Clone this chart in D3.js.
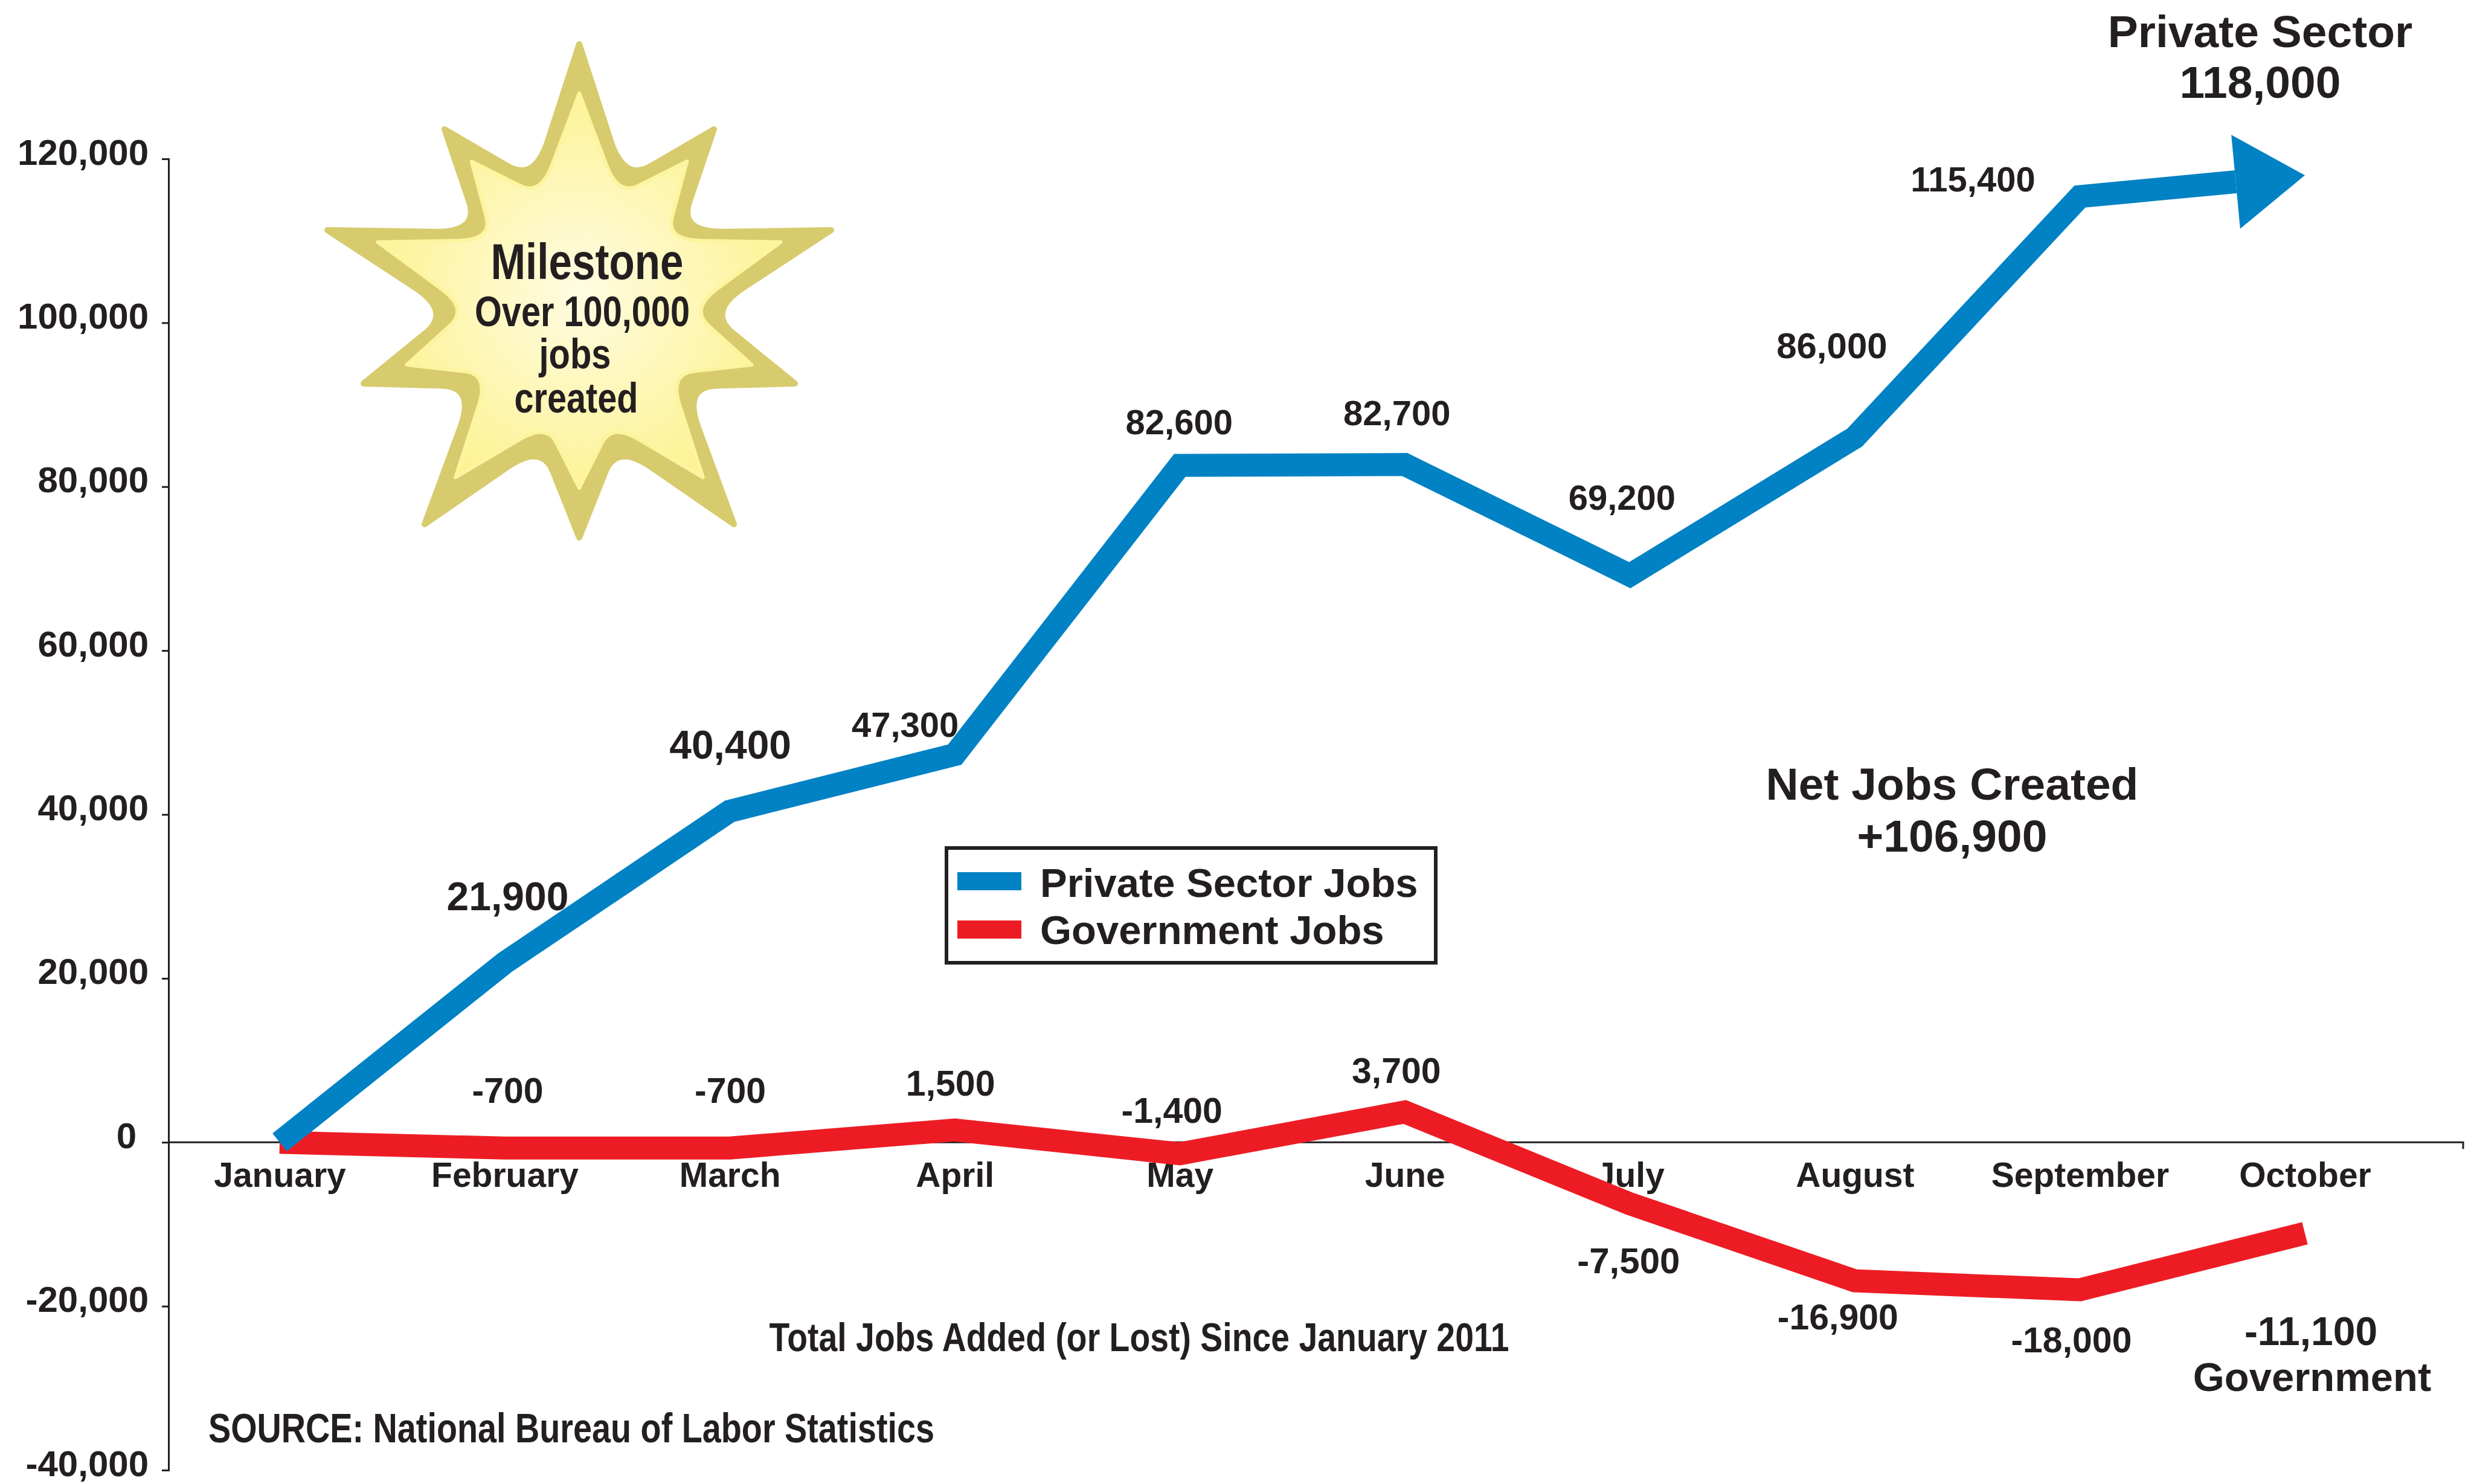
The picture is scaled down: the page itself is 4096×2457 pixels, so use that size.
<!DOCTYPE html>
<html>
<head>
<meta charset="utf-8">
<script src="https://cdn.jsdelivr.net/npm/d3@7"></script>
<style>
  body { margin: 0; background: #fff; }
  text { font-family: "Liberation Sans", Arial, Helvetica, sans-serif; font-weight: bold; fill: #231f20; }
</style>
</head>
<body>
<div id="vis"></div>
<script>
// data
const months = ["January", "February", "March", "April", "May", "June", "July", "August", "September", "October"];
const privateJobs = [0, 21900, 40400, 47300, 82600, 82700, 69200, 86000, 115400, 118000];
const governmentJobs = [0, -700, -700, 1500, -1400, 3700, -7500, -16900, -18000, -11100];
const yTicks = [-40000, -20000, 0, 20000, 40000, 60000, 80000, 100000, 120000];
const seriesNames = ["Private Sector Jobs", "Government Jobs"];
const netJobs = 106900;

const WIDTH = 4096;
const HEIGHT = 2457;
const INK = "#231f20";
const BLUE = "#0082c4";
const RED = "#ed1c24";
// plain hyphen for negatives, like the original
const fmt = v => d3.format(",")(v).replace("\u2212", "-");

const svg = d3.select("#vis")
    .append("svg")
    .attr("width", WIDTH)
    .attr("height", HEIGHT);

svg.append("rect")
    .attr("width", WIDTH)
    .attr("height", HEIGHT)
    .attr("fill", "#fff");

const X = d3.scalePoint()
    .domain(months)
    .range([463, 3816]);

const Y = d3.scaleLinear()
    .domain([-40000, 120000])
    .range([2434, 263]);

const AXIS_X = 279;

// ---- milestone star ----
const STAR_C = [959, 480];
// tip, valley, tip, valley ... clockwise from the top
const starPts = [
    [0, -407], [74, -179], [223, -266], [165, -95], [417, -99], [211, 36],
    [357, 155], [172, 160], [256, 388], [62, 254], [0, 410], [-62, 254],
    [-256, 388], [-172, 160], [-357, 155], [-211, 36], [-417, -99], [-165, -95],
    [-223, -266], [-74, -179]
];

function starPath(tipScale, valleyScale) {
    const P = starPts.map((d, i) => {
        const s = i % 2 === 0 ? tipScale : valleyScale;
        return [STAR_C[0] + d[0] * s, STAR_C[1] + d[1] * s];
    });
    const lerp = (a, b, t) => [a[0] + (b[0] - a[0]) * t, a[1] + (b[1] - a[1]) * t];
    const p = d3.path();
    p.moveTo(P[0][0], P[0][1]);
    for (let i = 1; i < P.length; i += 2) {
        const v = P[i], a = lerp(v, P[i - 1], 0.3), n = P[(i + 1) % P.length], b = lerp(v, n, 0.3);
        p.lineTo(a[0], a[1]);
        p.quadraticCurveTo(v[0], v[1], b[0], b[1]);
        p.lineTo(n[0], n[1]);
    }
    p.closePath();
    return p.toString();
}

const grad = svg.append("defs").append("radialGradient")
    .attr("id", "starFill")
    .attr("cx", "50%").attr("cy", "50%").attr("r", "55%");
grad.append("stop").attr("offset", "0%").attr("stop-color", "#fffce2");
grad.append("stop").attr("offset", "100%").attr("stop-color", "#fdf290");

svg.append("path")
    .attr("d", starPath(1, 1))
    .attr("fill", "#d7cb6e")
    .attr("stroke", "#d7cb6e")
    .attr("stroke-width", 10)
    .attr("stroke-linejoin", "round");

svg.append("path")
    .attr("d", starPath(0.8, 0.87))
    .attr("fill", "url(#starFill)")
    .attr("stroke", "#fdf4a0")
    .attr("stroke-width", 6)
    .attr("stroke-linejoin", "round");

const starText = [
    { t: "Milestone", x: 972, y: 462, size: 84, len: 319 },
    { t: "Over 100,000", x: 964, y: 540, size: 70, len: 356 },
    { t: "jobs", x: 952, y: 610, size: 70, len: 119 },
    { t: "created", x: 954, y: 683, size: 70, len: 205 }
];
svg.selectAll(".starText")
    .data(starText)
    .enter()
    .append("text")
    .attr("class", "starText")
    .attr("x", d => d.x)
    .attr("y", d => d.y)
    .attr("text-anchor", "middle")
    .attr("font-size", d => d.size)
    .attr("textLength", d => d.len)
    .attr("lengthAdjust", "spacingAndGlyphs")
    .text(d => d.t);

// ---- axes ----
const yAxis = svg.append("g")
    .attr("transform", "translate(" + AXIS_X + ",0)")
    .call(d3.axisLeft(Y).tickValues(yTicks).tickFormat(fmt).tickSize(11).tickSizeOuter(11).tickPadding(22));
yAxis.selectAll("path, line").attr("stroke", INK).attr("stroke-width", 3);
yAxis.selectAll("text")
    .attr("font-size", 60)
    .attr("dy", 9)
    .attr("fill", INK)
    .style("font-family", "'Liberation Sans', Arial, sans-serif")
    .style("font-weight", "bold");
yAxis.selectAll(".tick").filter(d => d === 0).select("text").attr("x", -53);

// zero line
svg.append("path")
    .attr("d", "M" + AXIS_X + "," + Y(0) + "H4078V" + (Y(0) + 11))
    .attr("fill", "none")
    .attr("stroke", INK)
    .attr("stroke-width", 3);

const xAxis = svg.append("g")
    .attr("transform", "translate(0," + Y(0) + ")")
    .call(d3.axisBottom(X).tickSize(0).tickPadding(0));
xAxis.select(".domain").remove();
xAxis.selectAll("text")
    .attr("y", 74)
    .attr("dy", 0)
    .attr("font-size", 57)
    .attr("fill", INK)
    .style("font-family", "'Liberation Sans', Arial, sans-serif")
    .style("font-weight", "bold");

// ---- legend ----
const legend = svg.append("g");
legend.append("rect")
    .attr("x", 1567).attr("y", 1404)
    .attr("width", 810).attr("height", 190)
    .attr("fill", "#fff")
    .attr("stroke", INK)
    .attr("stroke-width", 6);
legend.selectAll(".swatch")
    .data(seriesNames)
    .enter()
    .append("rect")
    .attr("class", "swatch")
    .attr("x", 1585)
    .attr("y", (d, i) => 1444 + i * 80)
    .attr("width", 106)
    .attr("height", 30)
    .attr("fill", (d, i) => i === 0 ? BLUE : RED);
legend.selectAll(".legendText")
    .data(seriesNames)
    .enter()
    .append("text")
    .attr("class", "legendText")
    .attr("x", 1722)
    .attr("y", (d, i) => 1485 + i * 78)
    .attr("font-size", 67)
    .text(d => d);

// ---- lines ----
const line = d3.line()
    .x(d => d[0])
    .y(d => d[1]);

const govPts = months.map((m, i) => [X(m), Y(governmentJobs[i])]);
svg.append("path")
    .attr("d", line(govPts))
    .attr("fill", "none")
    .attr("stroke", RED)
    .attr("stroke-width", 38)
    .attr("stroke-linejoin", "miter")
    .attr("stroke-linecap", "butt");

const privPts = months.map((m, i) => [X(m), Y(privateJobs[i])]);
const tip = privPts[privPts.length - 1];
const prev = privPts[privPts.length - 2];
const len = Math.hypot(tip[0] - prev[0], tip[1] - prev[1]);
const dir = [(tip[0] - prev[0]) / len, (tip[1] - prev[1]) / len];
const nrm = [-dir[1], dir[0]];
const HEAD_L = 115, HEAD_W = 78;
const base = [tip[0] - HEAD_L * dir[0], tip[1] - HEAD_L * dir[1]];

svg.append("path")
    .attr("d", line(privPts.slice(0, -1).concat([base])))
    .attr("fill", "none")
    .attr("stroke", BLUE)
    .attr("stroke-width", 38)
    .attr("stroke-linejoin", "miter")
    .attr("stroke-linecap", "butt");

svg.append("path")
    .attr("d", "M" + tip + "L" + [base[0] + HEAD_W * nrm[0], base[1] + HEAD_W * nrm[1]]
        + "L" + [base[0] - HEAD_W * nrm[0], base[1] - HEAD_W * nrm[1]] + "Z")
    .attr("fill", BLUE);

// ---- value labels ----
const privNudge = [null, [5, -87], [1, -87], [-82, -29], [-1, -51], [-13, -65], [-13, -108], [-38, -131], [-177, -8], null];
const privSize = [0, 66, 66, 58, 58, 58, 58, 60, 58, 0];
const govNudge = [null, [5, -75], [1, -75], [-7, -57], [-13, -51], [-14, -48], [-2, 115], [-28, 80], [-14, 104], [10, 185]];
const govSize = [0, 59, 59, 59, 59, 59, 60, 59, 59, 66];

svg.selectAll(".privLabel")
    .data(privateJobs.map((v, i) => ({ v: v, i: i })).filter(d => privNudge[d.i]))
    .enter()
    .append("text")
    .attr("class", "privLabel")
    .attr("x", d => X(months[d.i]) + privNudge[d.i][0])
    .attr("y", d => Y(d.v) + privNudge[d.i][1])
    .attr("text-anchor", "middle")
    .attr("font-size", d => privSize[d.i])
    .text(d => fmt(d.v));

svg.selectAll(".govLabel")
    .data(governmentJobs.map((v, i) => ({ v: v, i: i })).filter(d => govNudge[d.i]))
    .enter()
    .append("text")
    .attr("class", "govLabel")
    .attr("x", d => X(months[d.i]) + govNudge[d.i][0])
    .attr("y", d => Y(d.v) + govNudge[d.i][1])
    .attr("text-anchor", "middle")
    .attr("font-size", d => govSize[d.i])
    .text(d => fmt(d.v));

const last = months.length - 1;
svg.append("text")
    .attr("x", X(months[last]) + 12)
    .attr("y", Y(governmentJobs[last]) + 261)
    .attr("text-anchor", "middle")
    .attr("font-size", 67)
    .text("Government");

svg.append("text")
    .attr("x", X(months[last]) - 74)
    .attr("y", Y(privateJobs[last]) - 212)
    .attr("text-anchor", "middle")
    .attr("font-size", 75)
    .text("Private Sector");
svg.append("text")
    .attr("x", X(months[last]) - 74)
    .attr("y", Y(privateJobs[last]) - 128)
    .attr("text-anchor", "middle")
    .attr("font-size", 75)
    .text(fmt(privateJobs[last]));

// ---- notes ----
svg.append("text")
    .attr("x", 3232).attr("y", 1324)
    .attr("text-anchor", "middle")
    .attr("font-size", 75)
    .text("Net Jobs Created");
svg.append("text")
    .attr("x", 3232).attr("y", 1410)
    .attr("text-anchor", "middle")
    .attr("font-size", 75)
    .text("+" + fmt(netJobs));

svg.append("text")
    .attr("x", 1886).attr("y", 2237)
    .attr("text-anchor", "middle")
    .attr("font-size", 66)
    .attr("textLength", 1225)
    .attr("lengthAdjust", "spacingAndGlyphs")
    .text("Total Jobs Added (or Lost) Since January 2011");

svg.append("text")
    .attr("x", 345).attr("y", 2388)
    .attr("font-size", 68)
    .attr("textLength", 1202)
    .attr("lengthAdjust", "spacingAndGlyphs")
    .text("SOURCE: National Bureau of Labor Statistics");
</script>
</body>
</html>
